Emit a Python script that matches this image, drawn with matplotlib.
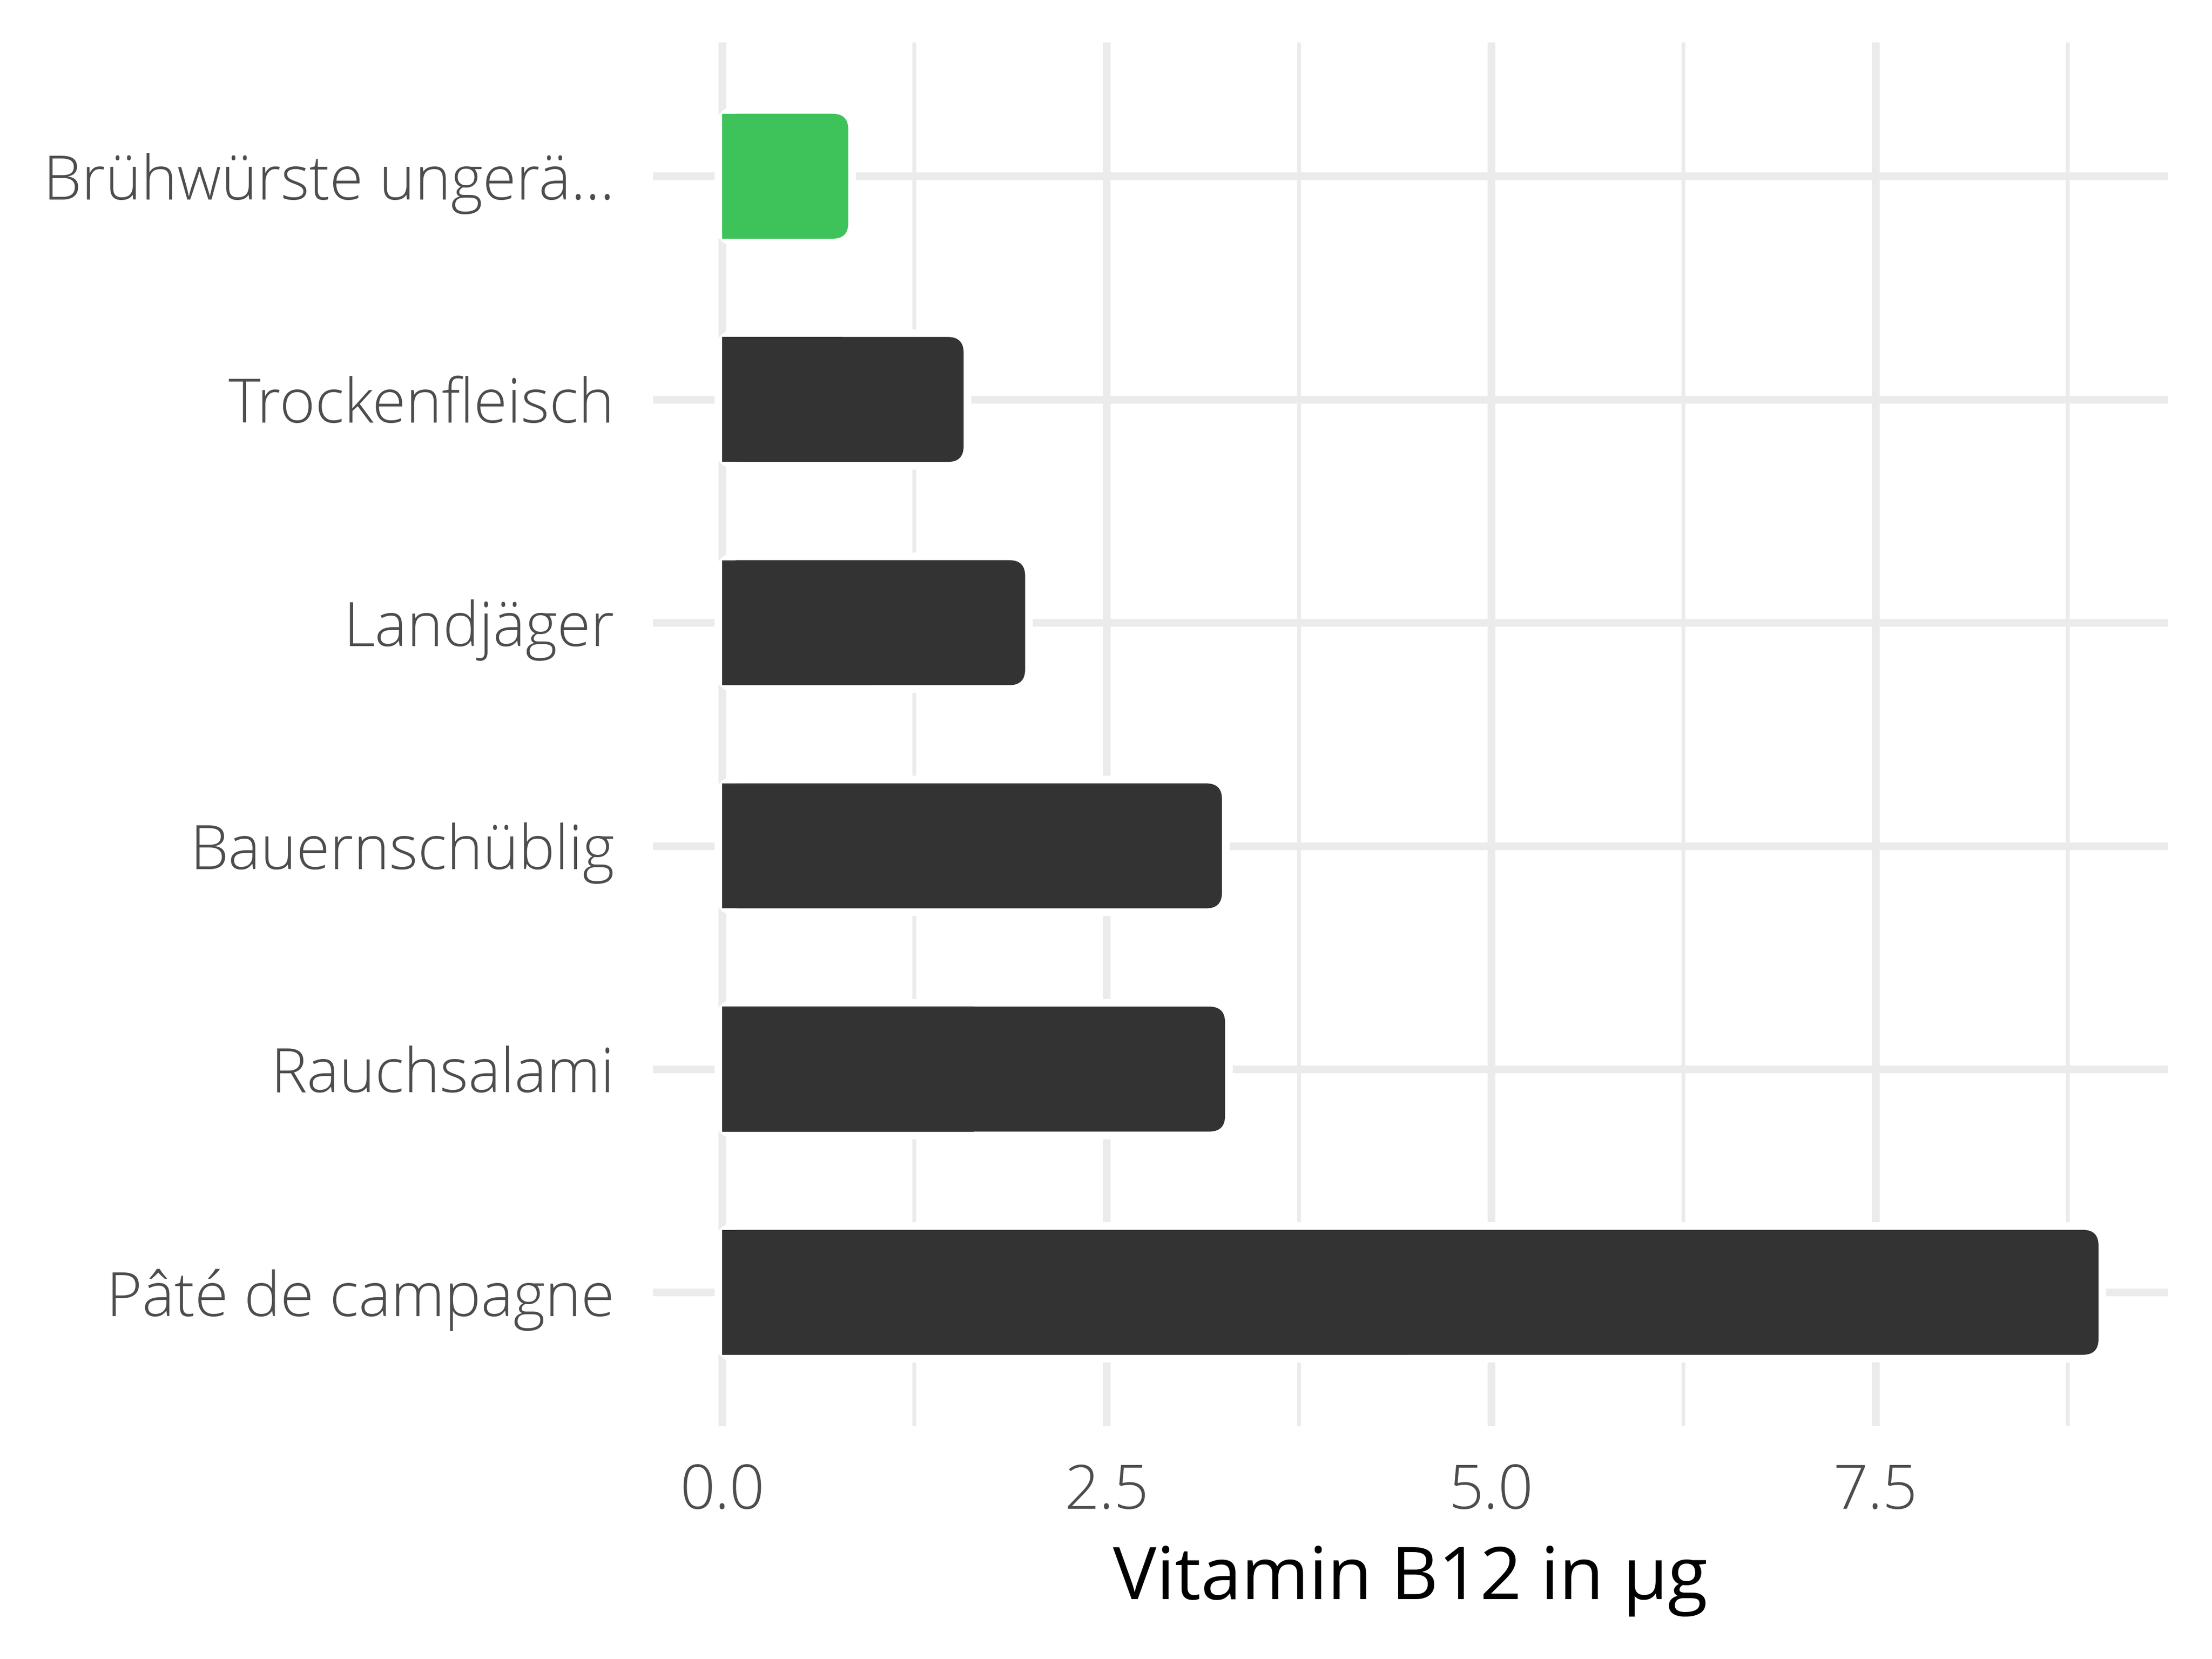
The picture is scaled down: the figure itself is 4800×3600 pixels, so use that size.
import matplotlib
matplotlib.use('Agg')
import matplotlib.pyplot as plt
from matplotlib.patches import FancyBboxPatch
from matplotlib.ticker import MultipleLocator

foods = ['Brühwürste ungerä...', 'Trockenfleisch', 'Landjäger', 'Bauernschüblig', 'Rauchsalami', 'Pâté de campagne']
values = [0.82, 1.57, 1.97, 3.25, 3.27, 8.95]
colors = ['#3EC35A', '#333333', '#333333', '#333333', '#333333', '#333333']
xlabel = 'Vitamin B12 in µg'

plt.rcParams['font.family'] = ['Open Sans', 'DejaVu Sans']
plt.rcParams['font.weight'] = 'light'

fig = plt.figure(figsize=(12, 9), dpi=400)
ax = fig.add_axes([0.2952, 0.1403, 0.98 - 0.2952, 0.9745 - 0.1403])

xmin, xmax = -0.45, 9.40
ax.set_xlim(xmin, xmax)
ax.set_ylim(-0.6, 5.6)
ax.invert_yaxis()

bar_h = 0.56
full = ax.barh(foods, values, height=bar_h, color=colors, zorder=3)
half = ax.barh(foods, [v / 2 for v in values], height=bar_h, color=colors, zorder=5)

# rounded bars with a white halo behind them
pos = ax.get_position()
xppu = pos.width * 4800 / (xmax - xmin)
yppu = pos.height * 3600 / 6.2
aspect = xppu / yppu
r = 34 / xppu
for p in full:
    x, y, w, h = p.get_x(), p.get_y(), p.get_width(), p.get_height()
    p.set_visible(False)
    style = f'round,pad=0,rounding_size={r}'
    halo = FancyBboxPatch((x, y), w, h, boxstyle=style, mutation_aspect=aspect,
                          facecolor='white', edgecolor='white', linewidth=6, zorder=3)
    fill = FancyBboxPatch((x, y), w, h, boxstyle=style, mutation_aspect=aspect,
                          facecolor=p.get_facecolor(), edgecolor='none', linewidth=0, zorder=4)
    ax.add_patch(halo)
    ax.add_patch(fill)

ax.set_xticks([0, 2.5, 5.0, 7.5])
ax.set_xticklabels(['0.0', '2.5', '5.0', '7.5'])
ax.xaxis.set_minor_locator(MultipleLocator(1.25))
ax.grid(which='major', axis='both', color='#EBEBEB', linewidth=3.0, zorder=0)
ax.grid(which='minor', axis='x', color='#EBEBEB', linewidth=1.5, zorder=0)
ax.set_axisbelow(True)
for s in ax.spines.values():
    s.set_visible(False)
ax.tick_params(axis='both', which='both', length=0, colors='#4D4D4D')
ax.tick_params(axis='y', pad=15, labelsize=23.8)
ax.tick_params(axis='x', pad=14, labelsize=24)
ax.set_xlabel(xlabel, fontsize=28.5, color='black', labelpad=8)

fig.savefig('out.png', dpi=400, facecolor='white')
